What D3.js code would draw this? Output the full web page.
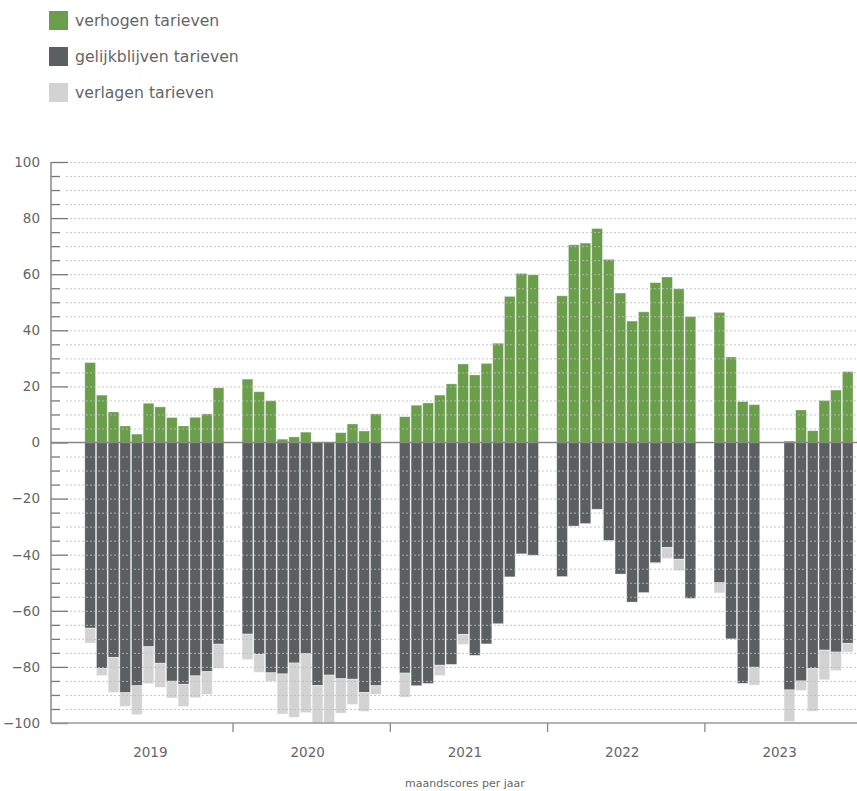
<!DOCTYPE html>
<html>
<head>
<meta charset="utf-8">
<script src="https://cdn.jsdelivr.net/npm/d3@7"></script>
<style>
    body { margin: 0; background: #fff; }
    svg { display: block; font-family: "DejaVu Sans", Verdana, sans-serif; }
    .axis .domain { display: none; }
</style>
</head>
<body>
<div id="chart"></div>
<script>
// maandscores per jaar, aandeel (%) per maand
const years = ["2019", "2020", "2021", "2022", "2023"];
const months = [1, 2, 3, 4, 5, 6, 7, 8, 9, 10, 11, 12];
const seriesNames = ["verhogen tarieven", "gelijkblijven tarieven", "verlagen tarieven"];
const seriesColors = ["#6a9e4a", "#5b5f5f", "#d3d3d3"];

// null = geen meting
const verhogen = [
    [28.5, 16.9, 10.9, 5.9, 3.0, 14.0, 12.7, 8.9, 5.9, 9.0, 10.2, 19.5],
    [22.6, 18.1, 14.9, 1.2, 2.0, 3.7, 0, 0, 3.5, 6.6, 4.1, 10.2],
    [9.2, 13.3, 14.1, 16.9, 20.9, 28.0, 24.1, 28.2, 35.4, 52.1, 60.3, 59.8],
    [52.3, 70.5, 71.1, 76.3, 65.3, 53.3, 43.3, 46.6, 57.0, 59.0, 54.8, 44.9],
    [46.4, 30.5, 14.6, 13.5, null, null, 0.5, 11.6, 4.2, 15.0, 18.7, 25.3]
];
const gelijkblijven = [
    [66.2, 80.6, 76.6, 89.2, 86.7, 72.8, 78.7, 85.1, 86.2, 83.2, 81.7, 71.9],
    [68.3, 75.6, 82.1, 82.5, 78.6, 75.3, 86.6, 82.9, 84.2, 84.4, 89.1, 86.7],
    [82.2, 86.7, 85.9, 79.4, 79.1, 68.4, 75.9, 71.8, 64.6, 47.9, 39.7, 40.2],
    [47.8, 29.8, 28.9, 23.8, 34.9, 46.9, 56.9, 53.5, 42.9, 37.4, 41.6, 55.6],
    [50.0, 70.0, 85.9, 80.1, null, null, 88.2, 85.0, 80.6, 74.0, 74.7, 71.6]
];
const verlagen = [
    [5.3, 2.5, 12.5, 4.9, 10.3, 13.2, 8.6, 6.0, 7.9, 7.8, 8.1, 8.6],
    [9.1, 6.3, 3.0, 14.3, 19.4, 21.0, 13.4, 17.1, 12.3, 9.0, 6.8, 3.1],
    [8.6, 0, 0, 3.7, 0, 3.6, 0, 0, 0, 0, 0, 0],
    [0, 0, 0, 0, 0, 0, 0, 0, 0.3, 4.0, 4.1, 0],
    [3.6, 0, 0.3, 6.4, null, null, 11.3, 3.4, 15.2, 10.6, 6.6, 3.1]
];
const majorTicks = [-100, -80, -60, -40, -20, 0, 20, 40, 60, 80, 100];
const minorTicks = d3.range(-95, 100, 5).filter(d => d % 20 !== 0);
const gridTicks = d3.range(-95, 101, 5).filter(d => d !== 0);

const width = 857, height = 791;
const axisX = 51, gridX = 66;

const svg = d3.select("#chart").append("svg")
    .attr("width", width)
    .attr("height", height);

// --- legend
const legend = svg.append("g").attr("class", "legend");
seriesNames.forEach((name, i) => {
    const row = legend.append("g").attr("transform", "translate(49," + (11 + i * 36) + ")");
    row.append("rect")
        .attr("width", 19).attr("height", 19)
        .attr("fill", seriesColors[i]);
    row.append("text")
        .attr("x", 26).attr("y", 9.5)
        .attr("dy", "0.35em")
        .attr("fill", "#666")
        .style("font-size", "15.7px")
        .text(name);
});

// --- scales
const y = d3.scaleLinear().domain([-100, 100]).range([723, 162]);
const x = d3.scaleBand().domain(years).range([75.7, 75.7 + 157.3 * years.length]);
const xMonth = d3.scaleBand().domain(months)
    .range([8.65, x.bandwidth() - 8.65])
    .paddingInner(0.08).paddingOuter(0.04);

// --- rows for stacking (negatives go down)
const rows = [];
years.forEach((yr, yi) => {
    months.forEach((m, mi) => {
        if (verhogen[yi][mi] === null) return;
        rows.push({
            year: yr, month: m,
            up: verhogen[yi][mi],
            same: -gelijkblijven[yi][mi],
            down: -verlagen[yi][mi]
        });
    });
});

const stack = d3.stack()
    .keys(["up", "same", "down"])
    .offset(d3.stackOffsetDiverging);
const layers = stack(rows);

svg.append("g").attr("class", "bars")
    .selectAll("g")
    .data(layers)
    .join("g")
    .attr("fill", (d, i) => seriesColors[i])
    .selectAll("rect")
    .data(d => d.filter(p => p[1] !== p[0]))
    .join("rect")
    .attr("x", d => x(d.data.year) + xMonth(d.data.month))
    .attr("width", xMonth.bandwidth())
    .attr("y", d => y(Math.max(d[0], d[1])))
    .attr("height", d => Math.abs(y(d[0]) - y(d[1])))
    .attr("stroke", "rgba(255,255,255,0.45)")
    .attr("stroke-width", 0.8);

// --- gridlines on top of the bars
svg.append("g")
    .attr("class", "axis grid")
    .attr("transform", "translate(" + gridX + ",0)")
    .call(d3.axisRight(y).tickValues(gridTicks).tickSize(width - gridX).tickFormat(""))
    .call(g => g.selectAll(".tick line")
        .attr("stroke", "#bdbdbd")
        .attr("stroke-opacity", 0.85)
        .attr("stroke-dasharray", "2,2"));

// --- y axis
svg.append("g")
    .attr("class", "axis")
    .attr("transform", "translate(" + axisX + ",0)")
    .call(d3.axisRight(y).tickValues(minorTicks).tickSize(9).tickFormat(""))
    .call(g => g.selectAll(".tick line").attr("stroke", "#777").attr("stroke-width", 1.3));

svg.append("g")
    .attr("class", "axis")
    .attr("transform", "translate(" + axisX + ",0)")
    .call(d3.axisRight(y).tickValues(majorTicks).tickSize(17).tickFormat(""))
    .call(g => g.selectAll(".tick line").attr("stroke", "#777").attr("stroke-width", 1.3));

svg.append("g")
    .attr("class", "axis")
    .attr("transform", "translate(" + axisX + ",0)")
    .call(d3.axisLeft(y).tickValues(majorTicks).tickSize(0).tickPadding(11))
    .call(g => g.selectAll(".tick text")
        .attr("fill", "#666")
        .style("font-size", "13.5px")
        .style("font-family", "DejaVu Sans, Verdana, sans-serif"));

svg.append("line")
    .attr("x1", axisX).attr("x2", axisX)
    .attr("y1", y(100)).attr("y2", y(-100))
    .attr("stroke", "#888").attr("stroke-width", 1.5);

// zero line
svg.append("line")
    .attr("x1", axisX).attr("x2", width)
    .attr("y1", y(0)).attr("y2", y(0))
    .attr("stroke", "#888").attr("stroke-width", 1.5);

// --- x axis
svg.append("line")
    .attr("x1", axisX).attr("x2", width)
    .attr("y1", y(-100)).attr("y2", y(-100))
    .attr("stroke", "#999").attr("stroke-width", 1.5);

svg.append("g").attr("class", "year-ticks")
    .selectAll("line")
    .data(years.slice(1))
    .join("line")
    .attr("x1", d => x(d)).attr("x2", d => x(d))
    .attr("y1", y(-100)).attr("y2", y(-100) + 9)
    .attr("stroke", "#888").attr("stroke-width", 1.3);

svg.append("g")
    .attr("class", "axis")
    .attr("transform", "translate(-4," + y(-100) + ")")
    .call(d3.axisBottom(x).tickSize(0).tickPadding(24))
    .call(g => g.selectAll(".tick text")
        .attr("fill", "#666")
        .style("font-size", "13.5px")
        .style("font-family", "DejaVu Sans, Verdana, sans-serif"));

svg.append("text")
    .attr("x", 465).attr("y", 787)
    .attr("text-anchor", "middle")
    .attr("fill", "#666")
    .style("font-size", "11px")
    .text("maandscores per jaar");
</script>
</body>
</html>
